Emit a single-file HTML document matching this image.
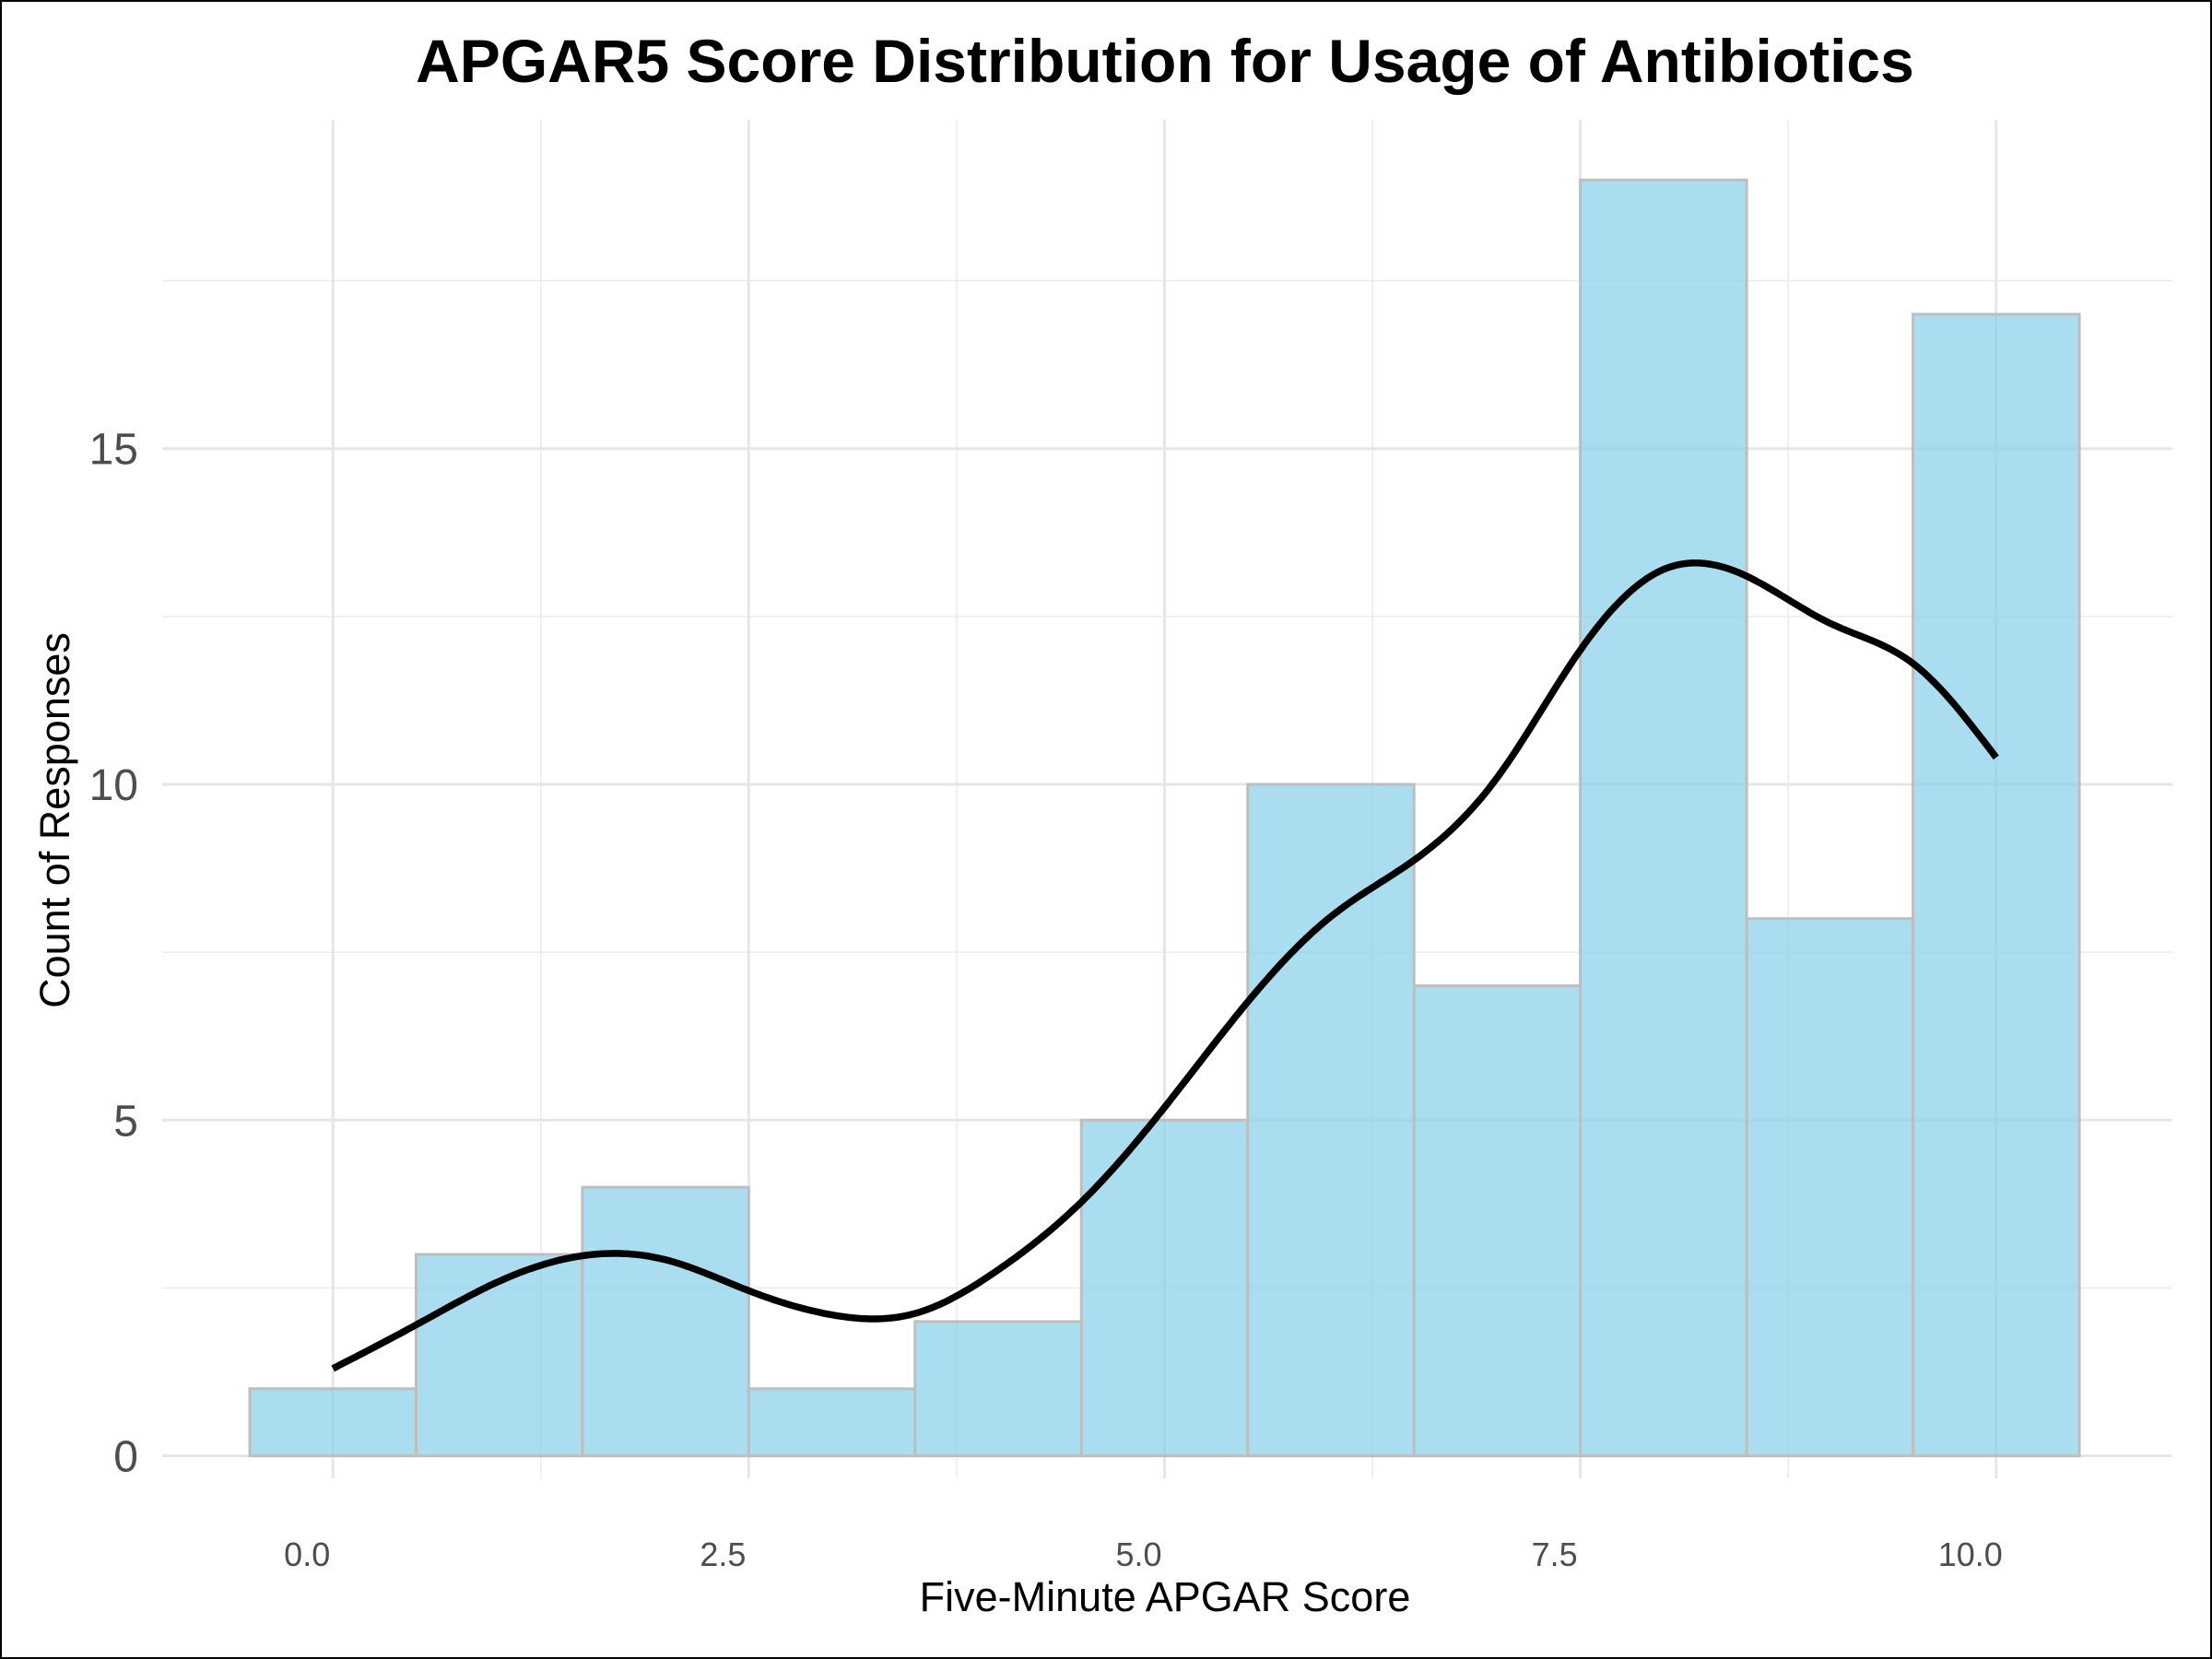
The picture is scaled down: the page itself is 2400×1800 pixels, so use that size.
<!DOCTYPE html>
<html><head><meta charset="utf-8"><style>
html,body{margin:0;padding:0;background:#fff}
svg{display:block;font-family:"Liberation Sans",sans-serif}
</style></head><body>
<svg id="chart" width="2400" height="1800" viewBox="0 0 2400 1800">
<rect x="1" y="1" width="2398" height="1798" fill="#fff" stroke="#000" stroke-width="2"/>
<g id="grid"></g><g id="bars"></g><g id="curve"></g><g id="axes"></g>
<text x="1264" y="89" text-anchor="middle" font-size="66" font-weight="bold" fill="#000">APGAR5 Score Distribution for Usage of Antibiotics</text>
<text x="1264" y="1748" text-anchor="middle" font-size="45" fill="#000">Five-Minute APGAR Score</text>
<text transform="translate(75,890) rotate(-90)" text-anchor="middle" font-size="45" fill="#000">Count of Responses</text>
</svg>
<script>
const scores=[0,1,2,3,4,5,6,7,8,9,10];
const counts=[1,3,4,1,2,5,10,7,19,8,17];
const densX=[0,0.5,1,1.5,2,2.5,3,3.5,4,4.5,5,5.5,6,6.5,7,7.5,8,8.5,9,9.5,10];
const densY=[1.3,1.95,2.6,2.98,2.92,2.46,2.1,2.12,2.77,3.78,5.19,6.76,8.03,8.87,10.1,12.0,13.2,13.1,12.4,11.8,10.4];
const xTicks=[0,2.5,5,7.5,10];
const xTickLabels=["0.0","2.5","5.0","7.5","10.0"];
const yTicks=[0,5,10,15];
const yTickLabels=["0","5","10","15"];
const xMinor=[1.25,3.75,6.25,8.75];
const yMinor=[2.5,7.5,12.5,17.5];
const NS="http://www.w3.org/2000/svg";
const X=v=>361.2+v*180.46;
const Y=v=>1579.6-v*72.86;
const L=176,R=2357,T=130,B=1604;
function mk(tag,attrs,parent){const e=document.createElementNS(NS,tag);for(const k in attrs)e.setAttribute(k,attrs[k]);parent.appendChild(e);return e;}
const grid=document.getElementById('grid'),bars=document.getElementById('bars'),curve=document.getElementById('curve'),axes=document.getElementById('axes');
yMinor.forEach(v=>{const l=mk('line',{x1:L,x2:R,y1:Y(v),y2:Y(v),stroke:'#ebebeb','stroke-width':1.5},grid);

});
xMinor.forEach(v=>{const l=mk('line',{x1:X(v),x2:X(v),y1:T,y2:B,stroke:'#ebebeb','stroke-width':1.5},grid);

});
yTicks.forEach((v,i)=>{const l=mk('line',{x1:L,x2:R,y1:Y(v),y2:Y(v),stroke:'#e6e6e6','stroke-width':3},grid);


const t=mk('text',{x:150,y:Y(v)+17,'text-anchor':'end','font-size':48,fill:'#4d4d4d'},axes);t.textContent=yTickLabels[i];

});
xTicks.forEach((v,i)=>{const l=mk('line',{x1:X(v),x2:X(v),y1:T,y2:B,stroke:'#e6e6e6','stroke-width':3},grid);


const t=mk('text',{x:X(v)-28,y:1699,'text-anchor':'middle','font-size':36,fill:'#4d4d4d'},axes);t.textContent=xTickLabels[i];

});
scores.forEach((s,i)=>{const r=mk('rect',{x:X(s-0.5),y:Y(counts[i]),width:X(s+0.5)-X(s-0.5),height:Y(0)-Y(counts[i]),fill:'#87ceeb','fill-opacity':0.7,stroke:'#bebebe','stroke-width':3},bars);

});
// natural cubic spline
const n=densX.length,h=[],al=[],l=[1],mu=[0],z=[0],c=new Array(n).fill(0),b=[],dd=[];
for(let i=0;i<n-1;i++)h[i]=densX[i+1]-densX[i];
for(let i=1;i<n-1;i++)al[i]=3/h[i]*(densY[i+1]-densY[i])-3/h[i-1]*(densY[i]-densY[i-1]);
for(let i=1;i<n-1;i++){l[i]=2*(densX[i+1]-densX[i-1])-h[i-1]*mu[i-1];mu[i]=h[i]/l[i];z[i]=(al[i]-h[i-1]*z[i-1])/l[i];}
for(let j=n-2;j>=0;j--){c[j]=(j>0?z[j]-mu[j]*c[j+1]:0);b[j]=(densY[j+1]-densY[j])/h[j]-h[j]*(c[j+1]+2*c[j])/3;dd[j]=(c[j+1]-c[j])/(3*h[j]);}
let d='';
for(let j=0;j<n-1;j++){for(let k=0;k<20;k++){const t=h[j]*k/20;const y=densY[j]+b[j]*t+c[j]*t*t+dd[j]*t*t*t;d+=(d?' L':'M')+X(densX[j]+t).toFixed(1)+','+Y(y).toFixed(1);}}
d+=' L'+X(densX[n-1]).toFixed(1)+','+Y(densY[n-1]).toFixed(1);
const path=mk('path',{d:d,fill:'none',stroke:'#000','stroke-width':7.5,'stroke-linejoin':'round'},curve);


</script>
</body></html>
